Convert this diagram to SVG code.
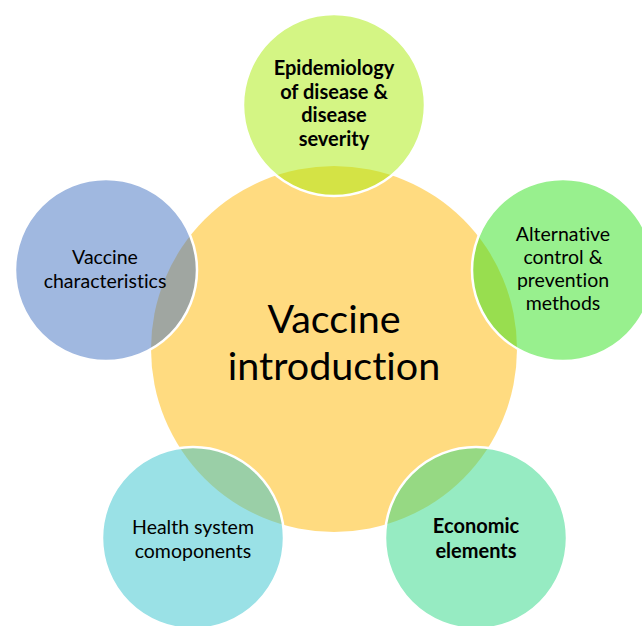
<svg xmlns="http://www.w3.org/2000/svg" width="642" height="626" viewBox="0 0 642 626">
  <style>
    .hub { fill: #FFDB80; }
    .sat { fill-opacity: 0.5; stroke: #FFFFFF; stroke-width: 2.5; }
    text { font-family: Lato, "Liberation Sans", sans-serif; fill: #000000; text-anchor: middle; font-variant-ligatures: none; }
    .lbl { font-size: 19.5px; }
    .bold { font-weight: bold; font-size: 20px; }
    .big { font-size: 39.5px; }
  </style>
  <rect width="642" height="626" fill="#FFFFFF"/>

  <!-- central topic -->
  <g id="vaccine-introduction">
    <circle class="hub" cx="334" cy="349" r="183"/>
    <text class="big" x="334" y="333">Vaccine</text>
    <text class="big" x="334" y="380">introduction</text>
  </g>

  <!-- surrounding factors -->
  <g id="epidemiology">
    <circle class="sat" cx="334" cy="105" r="91" fill="#A9EB09"/>
    <text class="lbl bold" x="334" y="75">Epidemiology</text>
    <text class="lbl bold" x="334" y="98.5">of disease &amp;</text>
    <text class="lbl bold" x="334" y="122">disease</text>
    <text class="lbl bold" x="334" y="145.5">severity</text>
  </g>

  <g id="vaccine-characteristics">
    <circle class="sat" cx="106" cy="270" r="91" fill="#4171C1"/>
    <text class="lbl" x="105" y="264">Vaccine</text>
    <text class="lbl" x="105" y="288">characteristics</text>
  </g>

  <g id="alternative-methods">
    <circle class="sat" cx="563" cy="270" r="91" fill="#31E11D"/>
    <text class="lbl" x="563" y="241">Alternative</text>
    <text class="lbl" x="563" y="264">control &amp;</text>
    <text class="lbl" x="563" y="287">prevention</text>
    <text class="lbl" x="563" y="310">methods</text>
  </g>

  <g id="health-system">
    <circle class="sat" cx="193" cy="538" r="91" fill="#35C3CD"/>
    <text class="lbl" x="193" y="534">Health system</text>
    <text class="lbl" x="193" y="558">comoponents</text>
  </g>

  <g id="economic-elements">
    <circle class="sat" cx="476" cy="538" r="91" fill="#2DD785"/>
    <text class="lbl bold" x="476" y="533">Economic</text>
    <text class="lbl bold" x="476" y="558">elements</text>
  </g>
</svg>
